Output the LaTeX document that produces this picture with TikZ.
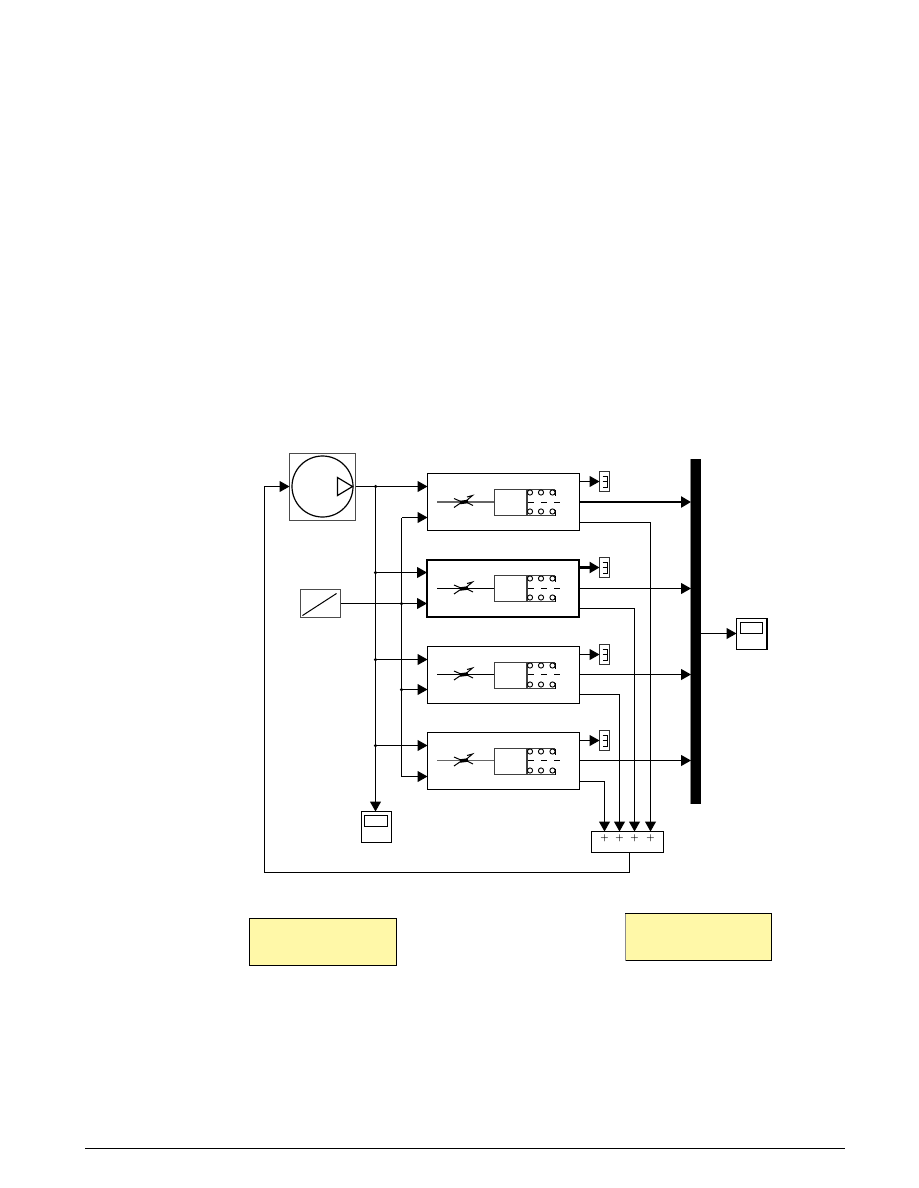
\documentclass[tikz,border=0pt]{standalone}
\usetikzlibrary{arrows.meta,calc}
\definecolor{notebg}{HTML}{FFF8A8}
\tikzset{
    wire/.style={line width=1pt},
    sig/.style={wire,-{Triangle[length=10pt,width=11pt]}},
    block/.style={draw,line width=1pt,inner sep=0pt,outer sep=0pt,anchor=north west},
    junct/.style={circle,fill=black,inner sep=0pt,minimum size=3.5pt},
    note/.style={block,fill=notebg,minimum height=47pt}
}
\begin{document}
\begin{tikzpicture}[x=1pt,y=-1pt]
        \useasboundingbox (0,0) rectangle (918,1188);

        % Source, ramp and the common bar
        \node[block,draw=black!70,minimum width=66pt,minimum height=67pt] (Generator) at (289.5,453.5) {};
        \node[draw,circle,line width=1.2pt,minimum size=61pt,inner sep=0pt,outer sep=0pt] (Rotor) at (322.5,486.5) {};
        \draw[line width=1.2pt] (337.5,477.5) -- (352.5,486.5) -- (337.5,495.5) -- cycle;

        \node[block,draw=black!70,minimum width=40pt,minimum height=28pt] (Ramp) at (300.5,589.5) {};
        \draw[wire] ($(Ramp.south west)+(2,-2)$) -- ($(Ramp.north east)+(-4,4)$);

        \node[block,draw=none,fill=black,minimum width=10pt,minimum height=344.5pt] (Bus) at (691,459) {};
        \draw[black!45,line width=1pt] (Bus.north west) ++(-0.5,0) -- ++(0,344.5);

        % Scopes
        \node[block,line width=1.5pt,minimum width=30.5pt,minimum height=31pt] (ScopeBus) at (736.5,618.5) {};
        \draw[wire] ($(ScopeBus.north west)+(4,4)$) rectangle ($(ScopeBus.north east)+(-4.5,15)$);
        \node[block,line width=1.5pt,minimum width=30pt,minimum height=31pt] (ScopeSpeed) at (361.5,811.5) {};
        \draw[wire] ($(ScopeSpeed.north west)+(3,4)$) rectangle ($(ScopeSpeed.north east)+(-4,15)$);

        % Adder
        \node[block,minimum width=72pt,minimum height=21pt] (Sum) at (591.5,831.5) {};
        \foreach \x[count=\i] in {604.5,619.5,634.5,650.5}
        {
            \node[font=\small\boldmath,inner sep=0pt] (Plus\i) at (\x,838.5) {$+$};
        }

        % The four motor units
        \foreach \n/\ytop/\lw/\off/\gw/\bw/\col/\ib/\ob/\os in {
            1/473.5/1.2/0/1/2.6/black!60/44/28.5/49,
            2/559.5/2/0.5/2.4/1/black/44/29/49,
            3/646.5/1.2/0/1/1/black/43/28/48,
            4/732.5/1.2/0/1/1/black!60/44/28/49}
        {
            \node[block,line width=\lw pt,minimum width=152pt,minimum height=57pt] (Motor\n) at (427.5-\off,\ytop+\off) {};
            \node[block,draw=black!80,minimum width=10pt,minimum height=20pt] (Goto\n) at (599.5,\ytop-2) {};

            \coordinate (InA\n) at (Motor\n.west |- 0,\ytop+13);
            \coordinate (InB\n) at (Motor\n.west |- 0,\ytop+\ib);
            \coordinate (OutG\n) at (Motor\n.east |- 0,\ytop+8);
            \coordinate (OutB\n) at (Motor\n.east |- 0,\ytop+\ob);
            \coordinate (OutS\n) at (Motor\n.east |- 0,\ytop+\os);

            \draw[sig,line width=\gw pt] (OutG\n) -- (OutG\n -| Goto\n.west);
            \draw[sig,line width=\bw pt] (OutB\n) -- (OutB\n -| Bus.west);

            % goto tag
            \draw[line width=1pt] (602.5,\ytop+3) -- (607.5,\ytop+3) -- (607.5,\ytop+14) -- (602.5,\ytop+14)
            (602.5,\ytop+8) -- (607.5,\ytop+8);

            % stator and coils
            \draw[line width=1.4pt,\col] (437,\ytop+\ob) -- (494.5,\ytop+\ob);
            \draw[line width=1.1pt,black!75] (555,\ytop+16) -- (494.5,\ytop+16) -- (494.5,\ytop+42) -- (555,\ytop+42)
            (527,\ytop+16) -- (527,\ytop+42);
            \draw[line width=1pt,dash pattern=on 6pt off 7pt] (528,\ytop+\ob) -- (562,\ytop+\ob);
            \foreach \x in {530,541,552.5}
            {
                \draw[line width=0.9pt,fill=white] (\x,\ytop+19) circle (2.6);
                \draw[line width=0.9pt,fill=white] (\x,\ytop+38) circle (2.6);
            }
            \draw[line width=1pt] (555,\ytop+16) -- ++(0,6) (555,\ytop+36) -- ++(0,6);

            % small running figure on the shaft
            \draw[line width=3.5pt] (460,\ytop+\ob+0.5) -- (468,\ytop+\ob-0.5);
            \draw[line width=1pt] (454,\ytop+\ob-3.5) -- (462,\ytop+\ob) -- (454,\ytop+\ob+5.5)
            (466,\ytop+\ob) -- (473,\ytop+\ob+3.5) (466,\ytop+\ob-1) -- (472.5,\ytop+\ob-6.5) -- (467,\ytop+\ob-5);
        }

        % Voltage and speed rails
        \draw[wire] (Generator.east |- InA1) -- ++(20,0) coordinate (RailA);
        \draw[sig] (RailA) -- (InA1);
        \draw[sig] (RailA) -- (RailA |- ScopeSpeed.north);
        \coordinate (RailB) at (401.5,517.5);
        \foreach \n in {2,3,4}
        {
            \draw[sig] (RailA |- InA\n) -- (InA\n);
            \node[junct] (JunctA\n) at (RailA |- InA\n) {};
        }
        \node[junct] (JunctA1) at (RailA) {};
        \draw[wire] (RailB |- InB4) -- (RailB);
        \draw[sig] (RailB) -- (InB1);
        \draw[sig] (RailB |- InB4) -- (InB4);
        \draw[sig] (Ramp.east |- InB2) -- (InB2);
        \draw[sig] (RailB |- InB3) -- (InB3);
        \node[junct] (JunctB2) at (RailB |- InB2) {};
        \node[junct] (JunctB3) at (RailB |- InB3) {};

        % Currents into the adder
        \foreach \n/\i in {1/4,2/3,3/2,4/1}
        {
            \draw[sig] (OutS\n) -| (Plus\i |- Sum.north);
        }

        % Feedback and bus output
        \draw[sig] (Bus.east |- 0,633.5) -- (ScopeBus.west |- 0,633.5);
        \coordinate (FbStart) at (629.5,852.5);
        \coordinate (FbCorner) at (264.5,872.5);
        \draw[sig] (FbStart) |- (FbCorner) |- (Generator.west |- Rotor.center);

        % Empty note boxes
        \node[note,minimum width=147pt] (NoteLeft) at (249.5,918.5) {};
        \node[note,minimum width=146pt] (NoteRight) at (625.5,913.5) {};
        \draw[black!45,line width=1pt] (NoteRight.north west) -- (NoteRight.south west);

        % Footer rule
        \coordinate (FootL) at (85,1148.5);
        \coordinate (FootR) at (845,1148.5);
        \draw[line width=1pt] (FootL) -- (FootR);
    \end{tikzpicture}
\end{document}
